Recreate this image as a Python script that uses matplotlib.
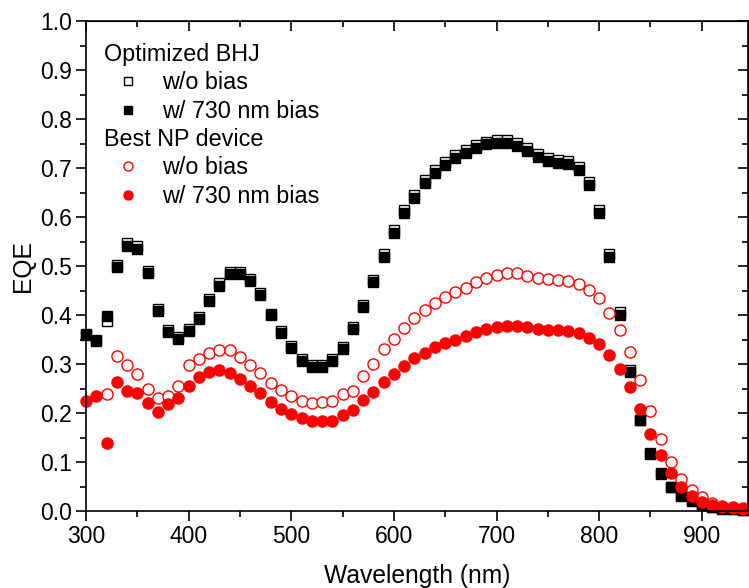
import numpy as np
import matplotlib
matplotlib.use("Agg")
import matplotlib.pyplot as plt
from matplotlib.lines import Line2D
from matplotlib.ticker import MultipleLocator, FormatStrFormatter

plt.rcParams['font.family'] = ['Liberation Sans', 'DejaVu Sans']

# wavelength grid (nm)
wl = np.arange(300, 941, 10)
wl_np_open = np.arange(320, 941, 10)

# Optimized BHJ, w/o bias
bhj_nobias = [0.362, 0.350, 0.388, 0.502, 0.546, 0.540, 0.490, 0.412, 0.370, 0.356,
              0.371, 0.396, 0.433, 0.465, 0.488, 0.488, 0.474, 0.445, 0.403, 0.367,
              0.336, 0.311, 0.297, 0.297, 0.310, 0.335, 0.375, 0.421, 0.472, 0.524,
              0.573, 0.614, 0.645, 0.675, 0.696, 0.712, 0.726, 0.737, 0.747, 0.754,
              0.758, 0.758, 0.751, 0.741, 0.729, 0.721, 0.717, 0.714, 0.702, 0.671,
              0.614, 0.524, 0.406, 0.288, 0.186, 0.117, 0.075, 0.048, 0.031, 0.020,
              0.013, 0.008, 0.005, 0.004, 0.003]
# Optimized BHJ, w/ 730 nm bias
bhj_bias = [0.359, 0.347, 0.398, 0.497, 0.541, 0.535, 0.485, 0.408, 0.366, 0.352,
            0.367, 0.392, 0.429, 0.460, 0.483, 0.483, 0.470, 0.441, 0.399, 0.363,
            0.332, 0.307, 0.293, 0.293, 0.306, 0.331, 0.371, 0.416, 0.467, 0.519,
            0.567, 0.608, 0.639, 0.669, 0.690, 0.706, 0.720, 0.731, 0.741, 0.748,
            0.752, 0.752, 0.745, 0.735, 0.723, 0.715, 0.711, 0.708, 0.696, 0.665,
            0.608, 0.518, 0.401, 0.284, 0.186, 0.118, 0.077, 0.050, 0.033, 0.022,
            0.014, 0.009, 0.006, 0.004, 0.003]
# Best NP device, w/o bias (from 320 nm)
np_nobias = [0.239, 0.317, 0.297, 0.280, 0.250, 0.230, 0.235, 0.256,
             0.297, 0.310, 0.323, 0.329, 0.329, 0.314, 0.298, 0.281, 0.262, 0.247,
             0.235, 0.225, 0.220, 0.223, 0.225, 0.238, 0.245, 0.276, 0.301, 0.331,
             0.352, 0.373, 0.393, 0.410, 0.425, 0.436, 0.446, 0.456, 0.467, 0.475,
             0.482, 0.485, 0.485, 0.480, 0.475, 0.473, 0.471, 0.469, 0.463, 0.452,
             0.434, 0.405, 0.370, 0.325, 0.267, 0.204, 0.147, 0.099, 0.065, 0.043,
             0.028, 0.017, 0.011, 0.008, 0.006]
# Best NP device, w/ 730 nm bias
np_bias = [0.224, 0.235, 0.139, 0.264, 0.244, 0.241, 0.220, 0.203, 0.218, 0.231,
           0.256, 0.273, 0.284, 0.288, 0.282, 0.269, 0.256, 0.241, 0.223, 0.208,
           0.198, 0.189, 0.184, 0.184, 0.184, 0.195, 0.206, 0.227, 0.242, 0.263,
           0.279, 0.296, 0.312, 0.323, 0.334, 0.342, 0.350, 0.357, 0.366, 0.372,
           0.376, 0.378, 0.378, 0.375, 0.371, 0.369, 0.369, 0.368, 0.364, 0.354,
           0.341, 0.318, 0.290, 0.254, 0.208, 0.157, 0.114, 0.077, 0.050, 0.031,
           0.019, 0.012, 0.009, 0.006, 0.005]

red = '#ff0000'

fig = plt.figure(figsize=(7.49, 5.88), dpi=100)
ax = fig.add_axes([86/749, 1 - 511/588, 662/749, 490/588])

ax.plot(wl, bhj_nobias, ls='none', marker='s', ms=7.9, mfc='white', mec='black', mew=1.0, clip_on=False)
ax.plot(wl, bhj_bias, ls='none', marker='s', ms=7.9, mfc='black', mec='black', mew=1.0, clip_on=False)
ax.plot(wl_np_open, np_nobias, ls='none', marker='o', ms=8.0, mfc='white', mec=red, mew=1.0, clip_on=False)
ax.plot(wl, np_bias, ls='none', marker='o', ms=8.0, mfc=red, mec=red, mew=1.0, clip_on=False)

ax.set_xlim(300, 945)
ax.set_ylim(0, 1.0)
ax.xaxis.set_major_locator(MultipleLocator(100))
ax.xaxis.set_minor_locator(MultipleLocator(50))
ax.yaxis.set_major_locator(MultipleLocator(0.1))
ax.yaxis.set_minor_locator(MultipleLocator(0.05))
ax.yaxis.set_major_formatter(FormatStrFormatter('%.1f'))

for s in ax.spines.values():
    s.set_linewidth(1.2)
ax.tick_params(which='both', direction='out', width=1.2, labelsize=16.5, pad=3)
ax.tick_params(which='major', length=7)
ax.tick_params(which='minor', length=4)

# mirrored ticks on top/right, pointing inward
top = ax.secondary_xaxis('top')
top.set_xticks(range(300, 950, 100))
top.xaxis.set_minor_locator(MultipleLocator(50))
top.tick_params(which='both', direction='in', width=1.2, labeltop=False)
top.tick_params(which='major', length=7)
top.tick_params(which='minor', length=4)
right = ax.secondary_yaxis('right')
right.yaxis.set_major_locator(MultipleLocator(0.1))
right.yaxis.set_minor_locator(MultipleLocator(0.05))
right.tick_params(which='both', direction='in', width=1.2, labelright=False)
right.tick_params(which='major', length=7)
right.tick_params(which='minor', length=4)

ax.set_xlabel('Wavelength (nm)', fontsize=17.7, labelpad=11.5)
ax.set_ylabel('EQE', fontsize=17.7, labelpad=4)

blank = Line2D([], [], ls='none')
handles = [blank,
           Line2D([], [], ls='none', marker='s', ms=6, mfc='white', mec='black', mew=1.0),
           Line2D([], [], ls='none', marker='s', ms=6, mfc='black', mec='black', mew=1.0),
           blank,
           Line2D([], [], ls='none', marker='o', ms=6.5, mfc='white', mec=red, mew=1.0),
           Line2D([], [], ls='none', marker='o', ms=6.5, mfc=red, mec=red, mew=1.0)]
labels = ['Optimized BHJ', 'w/o bias', 'w/ 730 nm bias',
          'Best NP device', 'w/o bias', 'w/ 730 nm bias']
leg = ax.legend(handles, labels, loc='upper left', bbox_to_anchor=(18/662, 1 - 22/490),
                frameon=False, fontsize=16.8, handlelength=2.06, handletextpad=0.43,
                labelspacing=0.23, borderpad=0, borderaxespad=0)

# header rows: no handle space, text starts at the left edge
rows = leg._legend_handle_box.get_children()[0].get_children()
for i in (0, 3):
    rows[i].get_children()[0].width = 0
    rows[i].sep = 0

fig.savefig('out.png', dpi=100)
